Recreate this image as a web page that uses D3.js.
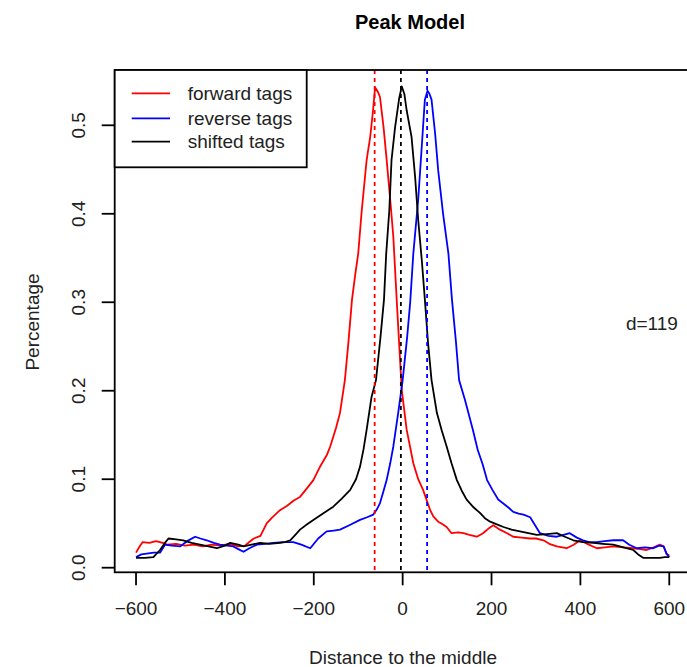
<!DOCTYPE html>
<html>
<head>
<meta charset="utf-8">
<script src="https://cdn.jsdelivr.net/npm/d3@7"></script>
<style>
  body { margin: 0; background: #fff; }
  svg { display: block; font-family: "Liberation Sans", Arial, Helvetica, sans-serif; }
</style>
</head>
<body>
<svg id="chart" width="687" height="667"></svg>
<script>
// ---------- data ----------

// [distance, percentage]
const forwardTags = [
  [-600,0.017],[-592,0.024],[-585,0.029],[-570,0.028],[-555,0.030],[-540,0.028],[-530,0.026],
  [-510,0.027],[-490,0.025],[-470,0.026],[-450,0.024],[-430,0.026],[-410,0.025],[-390,0.027],
  [-370,0.024],[-355,0.025],[-345,0.029],[-335,0.033],[-320,0.036],[-306,0.050],[-295,0.056],
  [-276,0.065],[-260,0.070],[-245,0.076],[-231,0.080],[-215,0.090],[-201,0.099],[-185,0.115],
  [-170,0.128],[-163,0.137],[-150,0.158],[-141,0.175],[-130,0.212],[-122,0.255],[-114,0.303],
  [-107,0.330],[-100,0.355],[-92,0.404],[-81,0.461],[-73,0.487],[-67,0.515],[-62,0.543],
  [-56,0.538],[-51,0.532],[-43,0.498],[-36,0.461],[-28,0.416],[-21,0.374],[-12,0.290],
  [-2,0.201],[9,0.156],[24,0.118],[35,0.100],[46,0.088],[55,0.075],[62,0.065],[69,0.058],
  [80,0.052],[90,0.049],[99,0.046],[110,0.039],[125,0.040],[137,0.039],[150,0.037],[167,0.035],
  [181,0.039],[195,0.045],[204,0.048],[219,0.043],[235,0.039],[249,0.035],[268,0.034],
  [287,0.033],[300,0.033],[317,0.031],[330,0.027],[347,0.024],[369,0.022],[385,0.026],
  [399,0.031],[415,0.027],[437,0.022],[455,0.023],[474,0.024],[495,0.023],[519,0.022],
  [535,0.021],[549,0.020],[565,0.023],[579,0.026],[588,0.024],[594,0.015],[600,0.014]
];

const reverseTags = [
  [-600,0.012],[-588,0.015],[-576,0.016],[-560,0.017],[-546,0.017],[-535,0.026],[-520,0.025],
  [-501,0.024],[-485,0.030],[-467,0.035],[-455,0.033],[-441,0.031],[-425,0.028],[-411,0.026],
  [-395,0.025],[-381,0.024],[-370,0.021],[-358,0.018],[-345,0.022],[-328,0.026],[-310,0.027],
  [-291,0.028],[-270,0.029],[-246,0.029],[-228,0.026],[-208,0.022],[-190,0.033],[-171,0.041],
  [-155,0.042],[-141,0.043],[-120,0.048],[-96,0.054],[-80,0.057],[-66,0.060],[-58,0.066],
  [-51,0.073],[-44,0.085],[-36,0.099],[-28,0.118],[-21,0.137],[-10,0.175],[0,0.212],[10,0.260],
  [17,0.300],[24,0.355],[35,0.416],[43,0.476],[50,0.529],[56,0.539],[60,0.536],[65,0.529],
  [73,0.491],[80,0.449],[91,0.400],[103,0.355],[111,0.303],[120,0.255],[127,0.212],[140,0.190],
  [158,0.156],[169,0.133],[180,0.117],[190,0.099],[202,0.088],[215,0.077],[228,0.072],
  [238,0.068],[249,0.063],[261,0.061],[272,0.060],[287,0.057],[298,0.048],[309,0.039],
  [328,0.036],[347,0.035],[362,0.037],[376,0.039],[392,0.034],[406,0.031],[420,0.029],
  [437,0.029],[455,0.030],[474,0.031],[496,0.031],[510,0.026],[527,0.022],[545,0.023],
  [564,0.022],[577,0.025],[587,0.024],[594,0.016],[600,0.012]
];

const shiftedTags = [
  [-600,0.011],[-580,0.011],[-561,0.012],[-546,0.020],[-535,0.028],[-527,0.033],[-510,0.032],
  [-494,0.031],[-475,0.028],[-456,0.026],[-437,0.024],[-418,0.022],[-400,0.025],[-388,0.028],
  [-370,0.026],[-358,0.024],[-340,0.026],[-321,0.028],[-300,0.027],[-276,0.028],[-265,0.029],
  [-253,0.031],[-240,0.038],[-231,0.043],[-215,0.049],[-201,0.054],[-180,0.061],[-156,0.069],
  [-137,0.078],[-118,0.088],[-105,0.100],[-96,0.114],[-88,0.134],[-81,0.156],[-70,0.193],
  [-60,0.212],[-50,0.260],[-42,0.303],[-37,0.355],[-30,0.404],[-25,0.461],[-17,0.498],
  [-8,0.530],[-2,0.544],[4,0.535],[9,0.517],[20,0.487],[28,0.442],[35,0.393],[43,0.348],
  [50,0.303],[57,0.255],[65,0.212],[77,0.175],[88,0.155],[99,0.137],[110,0.118],[122,0.099],
  [133,0.087],[144,0.077],[160,0.068],[174,0.062],[185,0.056],[197,0.052],[212,0.049],
  [227,0.046],[245,0.043],[264,0.041],[283,0.039],[302,0.037],[325,0.038],[347,0.039],
  [365,0.035],[384,0.031],[405,0.029],[429,0.028],[450,0.027],[474,0.026],[497,0.023],
  [519,0.020],[530,0.015],[542,0.011],[560,0.011],[579,0.011],[590,0.012],[600,0.012]
];

// peak positions (dashed lines)
const peakPositions = [-63, 55, -4];
const seriesNames = ["forward tags", "reverse tags", "shifted tags"];
const seriesColors = ["#ff0000", "#0000ff", "#000000"];
const xTicks = [-600, -400, -200, 0, 200, 400, 600];
const yTicks = [0.0, 0.1, 0.2, 0.3, 0.4, 0.5];
const dLabel = "d=119";

// ---------- layout ----------

const svg = d3.select("#chart");
const plot = { left: 114.7, right: 690.6, top: 70, bottom: 572.3 };
const fontSize = 19;
const lw = 1.8;

// R style 4% padding on the ranges
const x = d3.scaleLinear().domain([-648, 648]).range([plot.left, plot.right]);
const y = d3.scaleLinear().domain([-0.0052, 0.5625]).range([plot.bottom, plot.top]);

// title
svg.append("text")
  .attr("x", 410).attr("y", 29)
  .attr("text-anchor", "middle")
  .attr("font-weight", "bold")
  .attr("font-size", 20)
  .text("Peak Model");

// curves
const line = d3.line().x((d) => x(d[0])).y((d) => y(d[1]));
const allSeries = [forwardTags, reverseTags, shiftedTags];

svg.append("clipPath").attr("id", "clip")
  .append("rect")
  .attr("x", plot.left).attr("y", plot.top)
  .attr("width", plot.right - plot.left).attr("height", plot.bottom - plot.top);

const g = svg.append("g").attr("clip-path", "url(#clip)");

allSeries.forEach((s, i) => {
  g.append("path")
    .datum(s)
    .attr("d", line)
    .attr("fill", "none")
    .attr("stroke", seriesColors[i])
    .attr("stroke-width", lw)
    .attr("stroke-linejoin", "round");
});

// dashed lines at peaks
peakPositions.forEach((p, i) => {
  g.append("line")
    .attr("x1", x(p)).attr("x2", x(p))
    .attr("y1", plot.top).attr("y2", plot.bottom)
    .attr("stroke", seriesColors[i])
    .attr("stroke-width", lw)
    .attr("stroke-dasharray", "4,4");
});

// plot box
svg.append("rect")
  .attr("x", plot.left).attr("y", plot.top)
  .attr("width", plot.right - plot.left).attr("height", plot.bottom - plot.top)
  .attr("fill", "none").attr("stroke", "#000").attr("stroke-width", lw);

// x axis
const xAxis = svg.append("g");
xTicks.forEach((t) => {
  xAxis.append("line")
    .attr("x1", x(t)).attr("x2", x(t))
    .attr("y1", plot.bottom).attr("y2", plot.bottom + 13)
    .attr("stroke", "#000").attr("stroke-width", lw);
  xAxis.append("text")
    .attr("x", x(t)).attr("y", 615)
    .attr("text-anchor", "middle")
    .attr("font-size", fontSize)
    .attr("fill", "#222")
    .text(t < 0 ? "\u2212" + Math.abs(t) : String(t));
});
svg.append("text")
  .attr("x", 403).attr("y", 664)
  .attr("text-anchor", "middle")
  .attr("font-size", fontSize)
  .attr("fill", "#222")
  .text("Distance to the middle");

// y axis
const yAxis = svg.append("g");
yTicks.forEach((t) => {
  yAxis.append("line")
    .attr("x1", plot.left - 13).attr("x2", plot.left)
    .attr("y1", y(t)).attr("y2", y(t))
    .attr("stroke", "#000").attr("stroke-width", lw);
  yAxis.append("text")
    .attr("transform", `translate(85,${y(t)}) rotate(-90)`)
    .attr("text-anchor", "middle")
    .attr("font-size", fontSize)
    .attr("fill", "#222")
    .text(t.toFixed(1));
});
svg.append("text")
  .attr("transform", `translate(39,322) rotate(-90)`)
  .attr("text-anchor", "middle")
  .attr("font-size", fontSize)
  .attr("fill", "#222")
  .text("Percentage");

// d= label
svg.append("text")
  .attr("x", x(561)).attr("y", y(0.2766) + 7)
  .attr("text-anchor", "middle")
  .attr("font-size", fontSize)
  .attr("fill", "#222")
  .text(dLabel);

// legend
const legend = svg.append("g");
legend.append("rect")
  .attr("x", plot.left).attr("y", plot.top)
  .attr("width", 306.7 - plot.left).attr("height", 167.3 - plot.top)
  .attr("fill", "#fff").attr("stroke", "#000").attr("stroke-width", lw);
const rowY = [93.3, 118.3, 141.7];
seriesNames.forEach((name, i) => {
  legend.append("line")
    .attr("x1", 131.7).attr("x2", 170)
    .attr("y1", rowY[i]).attr("y2", rowY[i])
    .attr("stroke", seriesColors[i]).attr("stroke-width", lw);
  legend.append("text")
    .attr("x", 187.7).attr("y", rowY[i] + 6.5)
    .attr("font-size", fontSize)
    .attr("fill", "#222")
    .text(name);
});
</script>
</body>
</html>
